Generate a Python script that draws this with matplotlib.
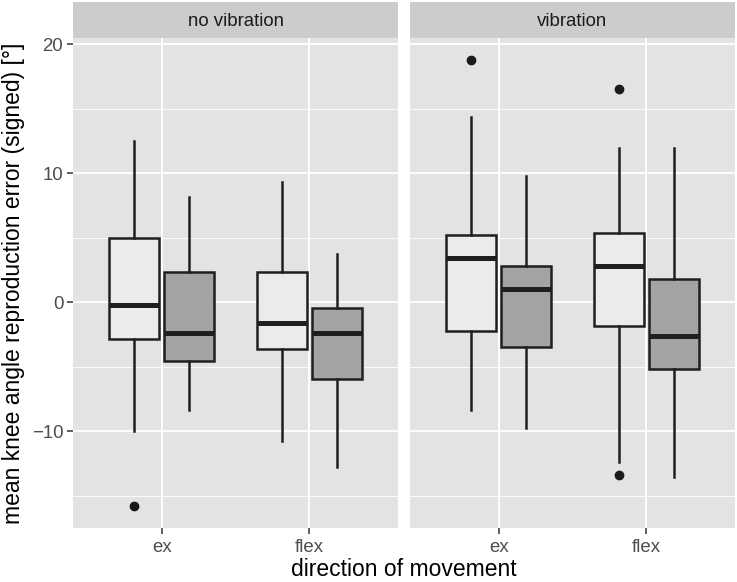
import matplotlib
matplotlib.use("Agg")
import matplotlib.pyplot as plt

plt.rcParams['font.family'] = ['Liberation Sans', 'DejaVu Sans']

panels = ["no vibration", "vibration"]
directions = ["ex", "flex"]
groups = ["A", "B"]  # light, dark fill

# stats per panel -> direction -> group: (whislo, q1, med, q3, whishi, outliers)
stats_data = {
    "no vibration": {
        "ex":   {"A": (-9.98, -2.82, -0.19, 5.01, 12.53, [-15.79]),
                 "B": (-8.37, -4.58, -2.40, 2.37, 8.16, [])},
        "flex": {"A": (-10.78, -3.62, -1.60, 2.37, 9.35, []),
                 "B": (-12.77, -5.97, -2.40, -0.42, 3.77, [])},
    },
    "vibration": {
        "ex":   {"A": (-8.35, -2.20, 3.41, 5.19, 14.34, [18.76]),
                 "B": (-9.74, -3.44, 1.01, 2.79, 9.77, [])},
        "flex": {"A": (-12.36, -1.81, 2.81, 5.37, 11.94, [16.56, -13.36]),
                 "B": (-13.54, -5.19, -2.59, 1.78, 11.94, [])},
    },
}

fills = {"A": "#EBEBEB", "B": "#A3A3A3"}
offsets = {"A": -0.1875, "B": 0.1875}
box_w = 0.3375

W, H = 737, 582
fig = plt.figure(figsize=(W / 100, H / 100), dpi=100)

def rect(x0, y0, x1, y1):
    return [x0 / W, (H - y1) / H, (x1 - x0) / W, (y1 - y0) / H]

panel_x = [(73, 398), (410, 735)]
py0, py1 = 38, 528
sy0, sy1 = 2, 38

line_col = "#1F1F1F"
for pi, pname in enumerate(panels):
    x0, x1 = panel_x[pi]
    ax = fig.add_axes(rect(x0, py0, x1, py1))
    ax.set_facecolor("#E3E3E3")
    ax.set_xlim(0.4, 2.6)
    ax.set_ylim(-17.5, 20.5)
    for m in [-15, -5, 5, 15]:
        ax.axhline(m, color="white", lw=0.6, zorder=0.5)
    for m in [-10, 0, 10, 20]:
        ax.axhline(m, color="white", lw=1.3, zorder=0.6)
    for xi in [1, 2]:
        ax.axvline(xi, color="white", lw=1.3, zorder=0.6)
    for s in ax.spines.values():
        s.set_visible(False)
    bxstats, positions, colors = [], [], []
    for di, d in enumerate(directions):
        for g in groups:
            lo, q1, med, q3, hi, fl = stats_data[pname][d][g]
            bxstats.append(dict(whislo=lo, q1=q1, med=med, q3=q3, whishi=hi, fliers=fl))
            positions.append(di + 1 + offsets[g])
            colors.append(fills[g])
    bp = ax.bxp(bxstats, positions=positions, widths=box_w, patch_artist=True,
                showcaps=False, manage_ticks=False,
                boxprops=dict(edgecolor=line_col, linewidth=1.8),
                whiskerprops=dict(color=line_col, linewidth=1.8),
                medianprops=dict(color=line_col, linewidth=3.6, solid_capstyle="butt"),
                flierprops=dict(marker="o", markerfacecolor="#1A1A1A", markeredgecolor="#1A1A1A",
                                markersize=6, linestyle="none"))
    for patch, c in zip(bp["boxes"], colors):
        patch.set_facecolor(c)
        patch.set_zorder(2)
    for ln in bp["medians"]:
        ln.set_zorder(3)
    ax.set_xticks([1, 2])
    ax.set_xticklabels(directions)
    ax.tick_params(axis="x", length=4, width=1.1, color="#333333", labelsize=13.4,
                   labelcolor="#4D4D4D", pad=4)
    if pi == 0:
        ax.set_yticks([-10, 0, 10, 20])
        ax.set_yticklabels(["\u221210", "0", "10", "20"])
        ax.tick_params(axis="y", length=4, width=1.1, color="#333333", labelsize=13.4,
                       labelcolor="#4D4D4D", pad=3)
    else:
        ax.set_yticks([-10, 0, 10, 20])
        ax.tick_params(axis="y", length=0, labelleft=False)
    # strip
    sax = fig.add_axes(rect(x0, sy0, x1, sy1))
    sax.set_facecolor("#CCCCCC")
    sax.set_xticks([]); sax.set_yticks([])
    for s in sax.spines.values():
        s.set_visible(False)
    sax.text(0.5, 0.45, pname, ha="center", va="center", fontsize=13.4, color="#1A1A1A",
             transform=sax.transAxes)

fig.text((73 + 735) / 2 / W, 1 - 570 / H, "direction of movement", ha="center", va="center",
         fontsize=16.5, color="black")
fig.text(14 / W, 1 - 283 / H, "mean knee angle reproduction error (signed) [°]", ha="center",
         va="center", rotation=90, fontsize=16.5, color="black")

fig.savefig("out.png", dpi=100, facecolor="white")
